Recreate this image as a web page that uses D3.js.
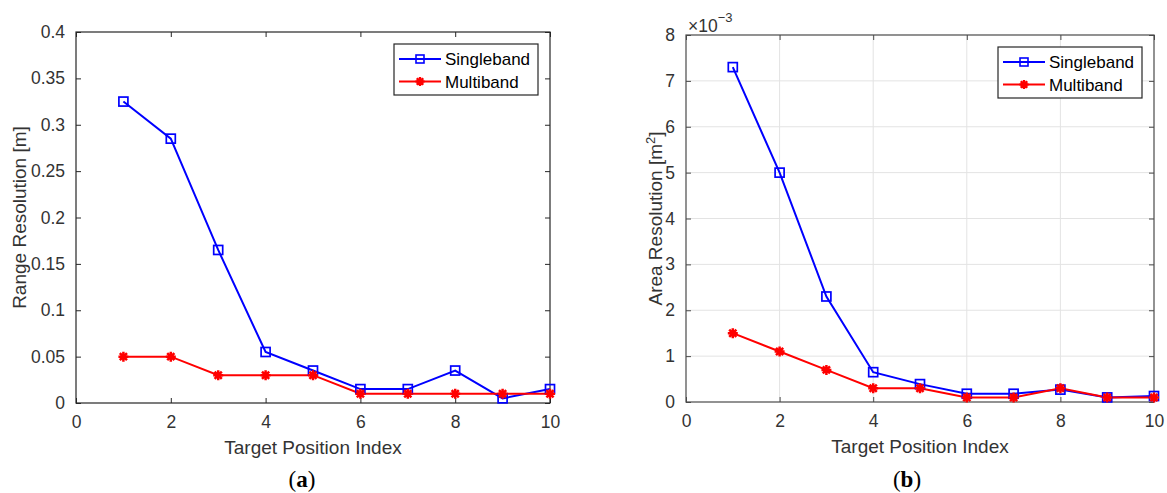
<!DOCTYPE html>
<html>
<head>
<meta charset="utf-8">
<script src="https://cdn.jsdelivr.net/npm/d3@7"></script>
<style>
  html, body { margin: 0; padding: 0; background: #fff; }
  svg { display: block; }
  text { font-family: "Liberation Sans", Arial, Helvetica, sans-serif; }
</style>
</head>
<body>
<svg id="chart" width="1167" height="493"></svg>
<script>
// ---------------- DATA ----------------
const positions = [1, 2, 3, 4, 5, 6, 7, 8, 9, 10];
const xTicks = [0, 2, 4, 6, 8, 10];
const seriesNames = ["Singleband", "Multiband"];

// (a) Range resolution [m]
const rangeSingleband = [0.325, 0.285, 0.165, 0.055, 0.035, 0.015, 0.015, 0.035, 0.005, 0.015];
const rangeMultiband  = [0.05, 0.05, 0.03, 0.03, 0.03, 0.01, 0.01, 0.01, 0.01, 0.01];
const rangeYTicks = [0, 0.05, 0.1, 0.15, 0.2, 0.25, 0.3, 0.35, 0.4];

// (b) Area resolution [m^2]
const areaSingleband = [0.0073, 0.0050, 0.0023, 0.00065, 0.00039, 0.00018, 0.00018, 0.00027, 0.0001, 0.00013];
const areaMultiband  = [0.0015, 0.0011, 0.0007, 0.0003, 0.0003, 0.0001, 0.0001, 0.0003, 0.0001, 0.0001];
const areaYTicks = [0, 0.001, 0.002, 0.003, 0.004, 0.005, 0.006, 0.007, 0.008];

const xLabel = "Target Position Index";
const yLabelA = "Range Resolution [m]";
const yLabelB = "Area Resolution [m";
const panelTags = ["a", "b"];

// ---------------- DRAW ----------------
const svg = d3.select("#chart");
const BLUE = "#0000ff", RED = "#ff0000";

function asteriskPath(r) {
  const d = r * 0.72;
  return `M${-r},0L${r},0M0,${-r}L0,${r}M${-d},${-d}L${d},${d}M${-d},${d}L${d},${-d}`;
}

function drawPanel(cfg) {
  const g = svg.append("g");
  const x = d3.scaleLinear().domain([0, 10]).range([cfg.left, cfg.right]);
  const y = d3.scaleLinear().domain([cfg.yTicks[0], cfg.yTicks[cfg.yTicks.length - 1]]).range([cfg.bottom, cfg.top]);

  // grid
  if (cfg.grid) {
    const gg = g.append("g");
    gg.selectAll("line.gx").data(xTicks.slice(1, -1)).join("line")
      .attr("x1", d => x(d)).attr("x2", d => x(d))
      .attr("y1", cfg.top).attr("y2", cfg.bottom)
      .attr("stroke", "#e3e3e3").attr("stroke-width", 1);
    gg.selectAll("line.gy").data(cfg.yTicks.slice(1, -1)).join("line")
      .attr("y1", d => y(d)).attr("y2", d => y(d))
      .attr("x1", cfg.left).attr("x2", cfg.right)
      .attr("stroke", "#e3e3e3").attr("stroke-width", 1);
  }

  // axes via d3 axis (inner ticks)
  const tl = 5;
  const axB = g.append("g").attr("transform", `translate(0,${cfg.bottom})`)
    .call(d3.axisBottom(x).tickValues(xTicks).tickSize(-tl).tickPadding(tl + 8).tickFormat(d3.format("d")));
  const axT = g.append("g").attr("transform", `translate(0,${cfg.top})`)
    .call(d3.axisTop(x).tickValues(xTicks).tickSize(-tl).tickFormat(""));
  const axL = g.append("g").attr("transform", `translate(${cfg.left},0)`)
    .call(d3.axisLeft(y).tickValues(cfg.yTicks).tickSize(-tl).tickPadding(tl + 6).tickFormat(cfg.fmt));
  const axR = g.append("g").attr("transform", `translate(${cfg.right},0)`)
    .call(d3.axisRight(y).tickValues(cfg.yTicks).tickSize(-tl).tickFormat(""));
  [axB, axT, axL, axR].forEach(a => {
    a.select(".domain").remove();
    a.selectAll(".tick line").attr("stroke", cfg.axisColor).attr("stroke-width", 1);
    a.selectAll(".tick text").attr("fill", "#333").style("font-size", "17.5px")
      .style("font-family", '"Liberation Sans", Arial, sans-serif');
  });
  // frame
  g.append("rect").attr("x", cfg.left).attr("y", cfg.top)
    .attr("width", cfg.right - cfg.left).attr("height", cfg.bottom - cfg.top)
    .attr("fill", "none").attr("stroke", cfg.axisColor).attr("stroke-width", 1.2);

  // series
  const line = d3.line().x((d, i) => x(positions[i])).y(d => y(d));
  const series = [
    { vals: cfg.single, color: BLUE, marker: "square" },
    { vals: cfg.multi, color: RED, marker: "asterisk" }
  ];
  const plot = g.append("g");
  series.forEach(s => {
    plot.append("path").datum(s.vals).attr("d", line)
      .attr("fill", "none").attr("stroke", s.color).attr("stroke-width", 2);
  });
  series.forEach(s => {
    const m = plot.append("g");
    if (s.marker === "square") {
      m.selectAll("rect").data(s.vals).join("rect")
        .attr("x", (d, i) => x(positions[i]) - 4.5).attr("y", d => y(d) - 4.5)
        .attr("width", 9).attr("height", 9)
        .attr("fill", "none").attr("stroke", s.color).attr("stroke-width", 1.7);
    } else {
      m.selectAll("path").data(s.vals).join("path")
        .attr("transform", (d, i) => `translate(${x(positions[i])},${y(d)})`)
        .attr("d", asteriskPath(5))
        .attr("fill", "none").attr("stroke", s.color).attr("stroke-width", 2.5);
    }
  });

  // axis titles
  g.append("text").attr("x", (cfg.left + cfg.right) / 2).attr("y", cfg.bottom + 51)
    .attr("text-anchor", "middle").attr("fill", "#333").style("font-size", "19px").text(xLabel);
  const yl = g.append("text")
    .attr("transform", `translate(${cfg.yLabelX},${(cfg.top + cfg.bottom) / 2}) rotate(-90)`)
    .attr("text-anchor", "middle").attr("fill", "#333").style("font-size", "19px");
  yl.append("tspan").text(cfg.yLabel);
  if (cfg.sup) {
    yl.append("tspan").attr("dy", -7).style("font-size", "13px").text(cfg.sup);
    yl.append("tspan").attr("dy", 7).text("]");
  }

  // legend
  const lw = 144, lh = 51;
  const lx = cfg.right - 12 - lw, ly = cfg.top + 12;
  const lg = g.append("g").attr("transform", `translate(${lx},${ly})`);
  lg.append("rect").attr("width", lw).attr("height", lh).attr("fill", "#fff")
    .attr("stroke", "#262626").attr("stroke-width", 1.2);
  series.forEach((s, i) => {
    const yy = 15 + i * 22.5;
    lg.append("line").attr("x1", 5).attr("x2", 47).attr("y1", yy).attr("y2", yy)
      .attr("stroke", s.color).attr("stroke-width", 2);
    if (s.marker === "square") {
      lg.append("rect").attr("x", 26 - 4).attr("y", yy - 4).attr("width", 8).attr("height", 8)
        .attr("fill", "none").attr("stroke", s.color).attr("stroke-width", 1.6);
    } else {
      lg.append("path").attr("transform", `translate(26,${yy})`).attr("d", asteriskPath(4.5))
        .attr("fill", "none").attr("stroke", s.color).attr("stroke-width", 2.4);
    }
    lg.append("text").attr("x", 51).attr("y", yy + 6).attr("fill", "#000")
      .style("font-size", "17px").text(seriesNames[i]);
  });

  // exponent label
  if (cfg.exponent) {
    const ex = g.append("text").attr("x", cfg.left + 2).attr("y", cfg.top - 3)
      .attr("fill", "#333").style("font-size", "17.5px");
    ex.append("tspan").text("×10");
    ex.append("tspan").attr("dy", -10).style("font-size", "13px").text(cfg.exponent);
  }

  // panel tag
  const tg = g.append("text").attr("x", cfg.tagX).attr("y", 487).attr("text-anchor", "middle")
    .attr("fill", "#000").style("font-family", '"Liberation Serif", "DejaVu Serif", serif')
    .style("font-size", "23px");
  tg.append("tspan").text("(");
  tg.append("tspan").style("font-weight", "bold").text(cfg.tag);
  tg.append("tspan").text(")");
}

drawPanel({
  left: 76, right: 550, top: 32, bottom: 403,
  yTicks: rangeYTicks, fmt: d => String(+d.toFixed(2)),
  single: rangeSingleband, multi: rangeMultiband,
  grid: false, axisColor: "#262626",
  yLabel: yLabelA, yLabelX: 26, tag: panelTags[0], tagX: 302
});
drawPanel({
  left: 686, right: 1154, top: 35, bottom: 402,
  yTicks: areaYTicks, fmt: d => String(Math.round(d * 1000)),
  single: areaSingleband, multi: areaMultiband,
  grid: true, axisColor: "#4a4a4a",
  yLabel: yLabelB, sup: "2", yLabelX: 662, exponent: "−3", tag: panelTags[1], tagX: 907
});
</script>
</body>
</html>
